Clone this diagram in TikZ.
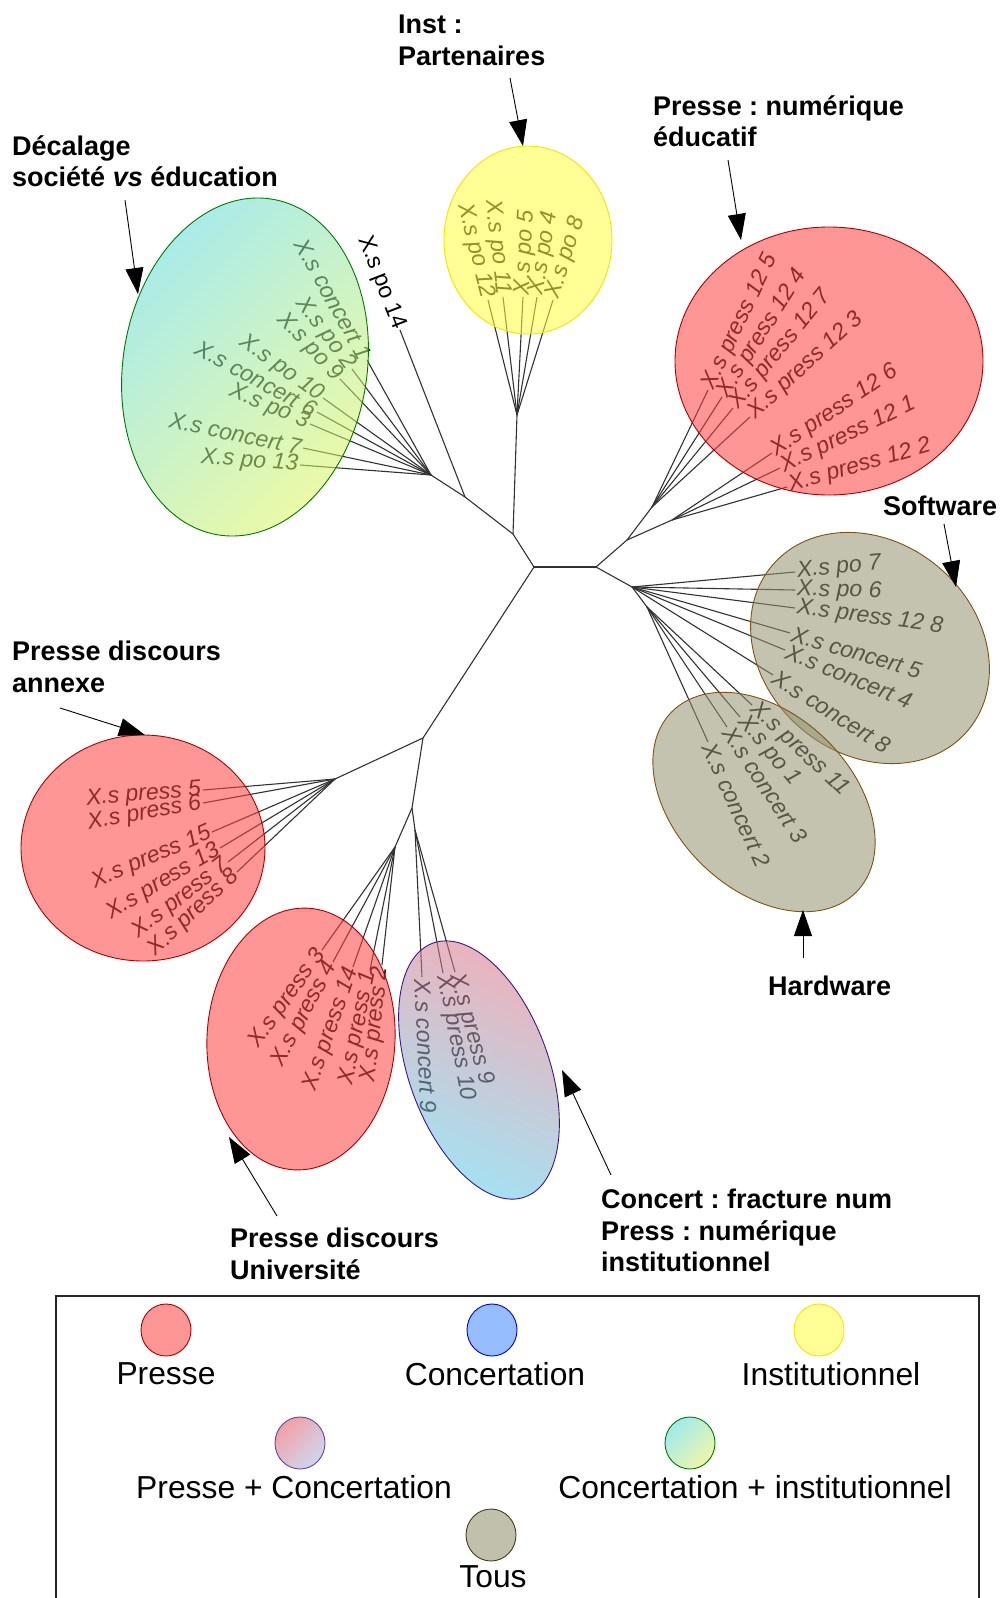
\documentclass[tikz,border=0pt]{standalone}
\usepackage{fontspec}
\setmainfont{Liberation Sans}
\usetikzlibrary{arrows.meta}
\frenchspacing
\definecolor{treec}{RGB}{50,50,50}
\definecolor{labc}{RGB}{15,15,15}
\definecolor{redov}{RGB}{255,64,64}
\definecolor{redbd}{RGB}{170,0,0}
\definecolor{yelov}{RGB}{255,255,64}
\definecolor{yelbd}{RGB}{240,230,0}
\definecolor{grayov}{RGB}{146,146,110}
\definecolor{graybd}{RGB}{130,80,20}
\definecolor{grnA}{RGB}{93,217,220}
\definecolor{grnB}{RGB}{221,246,91}
\definecolor{grnbd}{RGB}{0,120,0}
\definecolor{pcA}{RGB}{228,110,128}
\definecolor{pcB}{RGB}{82,206,237}
\definecolor{pcbd}{RGB}{60,20,140}
\definecolor{presf}{RGB}{255,150,150}
\definecolor{concf}{RGB}{150,190,255}
\definecolor{concbd}{RGB}{0,0,230}
\definecolor{instf}{RGB}{255,255,150}
\definecolor{instbd}{RGB}{255,225,0}
\definecolor{tousf}{RGB}{192,192,172}
\definecolor{tousbd}{RGB}{70,60,20}
\definecolor{lpcA}{RGB}{242,160,165}
\definecolor{lpcB}{RGB}{205,215,240}
\definecolor{lciA}{RGB}{160,235,235}
\definecolor{lciB}{RGB}{240,245,170}
\newcommand\labfont{\fontsize{23}{27}\selectfont\itshape}
\newcommand\labfontup{\fontsize{23}{27}\selectfont}
\begin{document}
\begin{tikzpicture}[x=1pt,y=-1pt,
  br/.style={draw=treec, line width=1.1pt},
  lr/.style={pos=1, sloped, anchor=west, inner sep=1.5pt, font=\labfont, text=labc},
  ll/.style={pos=1, sloped, anchor=east, inner sep=1.5pt, font=\labfont, text=labc},
  hd/.style={anchor=north west, inner sep=0pt, align=left, font=\fontsize{27}{31.6}\selectfont\bfseries},
  lg/.style={inner sep=0pt, font=\fontsize{31.8}{36}\selectfont},
  arr/.style={draw=black, line width=0.9pt, -{Triangle[length=26pt,width=18pt]}},
  bd/.style={line width=0.9pt},
  ov/.style={fill opacity=0.55, draw=none}]
\useasboundingbox (0,0) rectangle (999,1598);
% internal nodes
\coordinate (A) at (534,567);
\coordinate (B) at (596,567);
\coordinate (C) at (513,534);
\coordinate (D) at (465,497);
\coordinate (E) at (431,475);
\coordinate (Y) at (517,415);
\coordinate (K) at (627,540);
\coordinate (Kb) at (652,507);
\coordinate (Kc) at (672,520);
\coordinate (L) at (632,587);
\coordinate (M) at (647,607);
\coordinate (F) at (423,738);
\coordinate (G) at (335,779);
\coordinate (H) at (412,808);
\coordinate (I) at (395,847);
\coordinate (J) at (415,830);
\draw[br] (A) -- (B);
\draw[br] (A) -- (C);
\draw[br] (C) -- (D);
\draw[br] (C) -- (Y);
\draw[br] (D) -- (E);
\draw[br] (A) -- (F);
\draw[br] (F) -- (G);
\draw[br] (F) -- (H);
\draw[br] (H) -- (I);
\draw[br] (H) -- (J);
\draw[br] (B) -- (K);
\draw[br] (K) -- (Kb);
\draw[br] (K) -- (Kc);
\draw[br] (B) -- (L);
\draw[br] (L) -- (M);
% leaves
\coordinate (p14) at (400,330);
\draw[br] (D) -- (p14) node[ll, font=\labfontup, text=black] {X.s po 14};
\foreach \x/\y/\t in {367/360/concert 1, 352/369/po 2, 340/379/po 9, 323/398/po 10, 317/412/concert 6, 310/424/po 3, 303/448/concert 7, 300/465/po 13}{
  \coordinate (g\x) at (\x,\y);
  \draw[br] (E) -- (g\x) node[ll] {X.s \t};
}
\foreach \x/\y/\t in {488/300/po 12, 503/297/po 11}{
  \coordinate (y\x) at (\x,\y);
  \draw[br] (Y) -- (y\x) node[ll] {X.s \t};
}
\foreach \x/\y/\t in {523/297/po 5, 537/297/po 4, 553/300/po 8}{
  \coordinate (y\x) at (\x,\y);
  \draw[br] (Y) -- (y\x) node[lr] {X.s \t};
}
\foreach \x/\y/\t in {708/390/press 12 5, 722/397/press 12 4, 733/408/press 12 7, 750/417/press 12 3}{
  \coordinate (k\x) at (\x,\y);
  \draw[br] (Kb) -- (k\x) node[lr] {X.s \t};
}
\foreach \x/\y/\t in {772/453/press 12 6, 780/468/press 12 1, 787/487/press 12 2}{
  \coordinate (k\x) at (\x,\y);
  \draw[br] (Kc) -- (k\x) node[lr] {X.s \t};
}
\foreach \n/\x/\y/\t in {1/795/572/po 7, 2/795/590/po 6, 3/795/608/press 12 8, 4/790/633/concert 5, 5/785/650/concert 4, 6/773/675/concert 8}{
  \coordinate (s\n) at (\x,\y);
  \draw[br] (L) -- (s\n) node[lr] {X.s \t};
}
\foreach \x/\y/\t in {752/705/press 11, 740/717/po 1, 727/727/concert 3, 708/742/concert 2}{
  \coordinate (h\x) at (\x,\y);
  \draw[br] (M) -- (h\x) node[lr] {X.s \t};
}
\foreach \n/\x/\y/\t in {1/203/790/press 5, 2/203/803/press 6, 3/212/832/press 15, 4/220/848/press 13, 5/228/862/press 7, 6/237/872/press 8}{
  \coordinate (a\n) at (\x,\y);
  \draw[br] (G) -- (a\n) node[ll] {X.s \t};
}
\foreach \x/\y/\t in {322/950/press 3, 333/962/press 4, 353/967/press 14, 370/970/press 1, 382/965/press 2}{
  \coordinate (u\x) at (\x,\y);
  \draw[br] (I) -- (u\x) node[ll] {X.s \t};
}
\foreach \x/\y/\t in {422/977/concert 9, 443/973/press 10, 455/972/press 9}{
  \coordinate (c\x) at (\x,\y);
  \draw[br] (J) -- (c\x) node[lr] {X.s \t};
}
% cluster ellipses (overlay)
\shade[ov, top color=grnA, bottom color=grnB, shading angle=45, rotate around={-9:(245,367)}] (245,367) ellipse [x radius=122pt, y radius=170pt];
\draw[bd, draw=grnbd, rotate around={-9:(245,367)}] (245,367) ellipse [x radius=122pt, y radius=170pt];
\fill[ov, fill=yelov] (528,240) ellipse [x radius=84pt, y radius=94pt];
\draw[bd, draw=yelbd] (528,240) ellipse [x radius=84pt, y radius=94pt];
\fill[ov, fill=redov] (829,361) ellipse [x radius=154pt, y radius=134pt];
\draw[bd, draw=redbd] (829,361) ellipse [x radius=154pt, y radius=134pt];
\fill[ov, fill=grayov, rotate around={-40:(870,648)}] (870,648) ellipse [x radius=128pt, y radius=106pt];
\draw[bd, draw=graybd, rotate around={-40:(870,648)}] (870,648) ellipse [x radius=128pt, y radius=106pt];
\fill[ov, fill=grayov, rotate around={-44:(764,802)}] (764,802) ellipse [x radius=129pt, y radius=88pt];
\draw[bd, draw=graybd, rotate around={-44:(764,802)}] (764,802) ellipse [x radius=129pt, y radius=88pt];
\fill[ov, fill=redov] (143,848) ellipse [x radius=122pt, y radius=113pt];
\draw[bd, draw=redbd] (143,848) ellipse [x radius=122pt, y radius=113pt];
\fill[ov, fill=redov, rotate around={-3:(301,1039)}] (301,1039) ellipse [x radius=94pt, y radius=131pt];
\draw[bd, draw=redbd, rotate around={-3:(301,1039)}] (301,1039) ellipse [x radius=94pt, y radius=131pt];
\shade[ov, top color=pcA, bottom color=pcB, shading angle=-25, rotate around={-70:(479,1070)}] (479,1070) ellipse [x radius=135pt, y radius=70pt];
\draw[bd, draw=pcbd, rotate around={-70:(479,1070)}] (479,1070) ellipse [x radius=135pt, y radius=70pt];
% headings
\node[hd] (tInst) at (398,15) {Inst :\\Partenaires};
\node[hd] (tPres) at (653,95) {Presse : numérique\\éducatif};
\node[hd] (tDec) at (12,135) {Décalage\\société \textit{vs} éducation};
\node[hd] (tSoft) at (883,496) {Software};
\node[hd] (tAnn) at (12,641) {Presse discours\\annexe};
\node[hd] (tHard) at (768,976) {Hardware};
\node[hd] (tUniv) at (230,1228) {Presse discours\\Université};
\node[hd] (tConc) at (601,1189) {Concert : fracture num\\Press : numérique\\institutionnel};
% arrows
\coordinate (aI0) at (510,78);   \coordinate (aI1) at (523,146);
\coordinate (aP0) at (728,160);  \coordinate (aP1) at (741,240);
\coordinate (aD0) at (125,200);  \coordinate (aD1) at (138,294);
\coordinate (aS0) at (944,524);  \coordinate (aS1) at (956,587);
\coordinate (aA0) at (60,708);   \coordinate (aA1) at (145,735);
\coordinate (aH0) at (803,958);  \coordinate (aH1) at (803,910);
\coordinate (aU0) at (277,1216); \coordinate (aU1) at (229,1137);
\coordinate (aC0) at (611,1175); \coordinate (aC1) at (562,1070);
\draw[arr] (aI0) -- (aI1);
\draw[arr] (aP0) -- (aP1);
\draw[arr] (aD0) -- (aD1);
\draw[arr] (aS0) -- (aS1);
\draw[arr] (aA0) -- (aA1);
\draw[arr] (aH0) -- (aH1);
\draw[arr] (aU0) -- (aU1);
\draw[arr] (aC0) -- (aC1);
% legend
\draw[line width=1.2pt, draw=black!85] (56,1296) rectangle (979,1620);
\filldraw[fill=presf, draw=redbd, bd] (166,1330) ellipse [x radius=25pt, y radius=26pt];
\node[lg] (lP) at (166,1374) {Presse};
\filldraw[fill=concf, draw=concbd, bd] (492,1330) ellipse [x radius=25pt, y radius=26pt];
\node[lg] (lC) at (495,1374) {Concertation};
\filldraw[fill=instf, draw=instbd, bd] (819,1330) ellipse [x radius=25pt, y radius=26pt];
\node[lg] (lI) at (831,1374) {Institutionnel};
\shade[top color=lpcA, bottom color=lpcB, shading angle=45] (300,1443) ellipse [x radius=25pt, y radius=26pt];
\draw[bd, draw=pcbd!80] (300,1443) ellipse [x radius=25pt, y radius=26pt];
\node[lg] (lPC) at (294,1487) {Presse + Concertation};
\shade[top color=lciA, bottom color=lciB, shading angle=45] (690,1443) ellipse [x radius=25pt, y radius=26pt];
\draw[bd, draw=grnbd] (690,1443) ellipse [x radius=25pt, y radius=26pt];
\node[lg] (lCI) at (755,1487) {Concertation + institutionnel};
\filldraw[fill=tousf, draw=tousbd, bd] (491,1535) ellipse [x radius=25pt, y radius=26pt];
\node[lg] (lT) at (493,1577) {Tous};
\end{tikzpicture}
\end{document}
